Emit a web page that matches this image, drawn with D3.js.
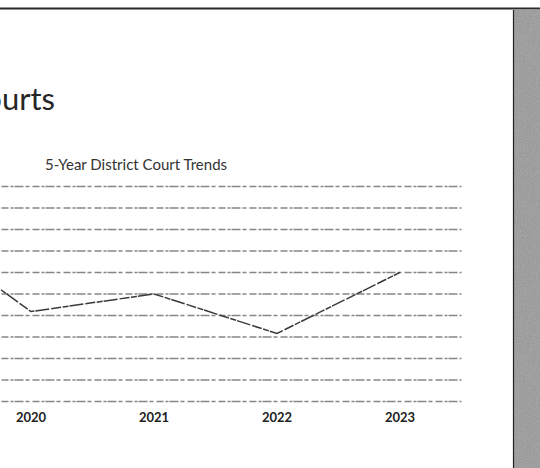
<!DOCTYPE html>
<html>
<head>
<meta charset="utf-8">
<script src="https://cdn.jsdelivr.net/npm/d3@7"></script>
<style>
  html, body { margin: 0; padding: 0; background: #fff; }
  svg { display: block; }
</style>
</head>
<body>
<svg id="slide" width="540" height="468"></svg>
<script>
// Annual district court totals, 2019–2023
const years = ["2019", "2020", "2021", "2022", "2023"];
const filings = [41600, 20800, 24900, 15700, 29900];
const yTicks = [0, 5000, 10000, 15000, 20000, 25000, 30000, 35000, 40000, 45000, 50000];

const svg = d3.select("#slide");
const W = 540, H = 468;

// paper grain used on the side panel
const defs = svg.append("defs");
const grain = defs.append("filter").attr("id", "grain")
  .attr("x", 0).attr("y", 0).attr("width", "100%").attr("height", "100%");
grain.append("feTurbulence").attr("type", "fractalNoise")
  .attr("baseFrequency", 0.8).attr("numOctaves", 2).attr("seed", 7).attr("result", "n");
grain.append("feColorMatrix").attr("in", "n").attr("type", "saturate").attr("values", 0);

// slide frame: top rule and grey side panel
svg.append("rect").attr("x", 0).attr("y", 7.5).attr("width", W).attr("height", 2).attr("fill", "#2a2a2a");
svg.append("rect").attr("x", 513).attr("y", 10).attr("width", 27).attr("height", H - 10).attr("fill", "#989898");
svg.append("rect").attr("x", 513).attr("y", 10).attr("width", 27).attr("height", H - 10)
  .attr("filter", "url(#grain)").attr("opacity", 0.4);
svg.append("line").attr("x1", 513.5).attr("x2", 513.5).attr("y1", 10).attr("y2", H)
  .attr("stroke", "#222").attr("stroke-width", 1.2);

// slide heading
svg.append("text")
  .attr("x", 55).attr("y", 110)
  .attr("text-anchor", "end")
  .attr("font-family", "Lato, 'Open Sans', sans-serif")
  .attr("font-size", 31)
  .attr("fill", "#262626")
  .text("District Courts");

// chart
const x = d3.scaleBand().domain(years).range([-153.5, 461.5]);
const y = d3.scaleLinear().domain([0, 50000]).range([401, 186]);
const cx = d => x(d) + x.bandwidth() / 2;

svg.append("text")
  .attr("x", 136).attr("y", 170)
  .attr("text-anchor", "middle")
  .attr("font-family", "Lato, 'Open Sans', sans-serif")
  .attr("font-size", 15)
  .attr("fill", "#333")
  .text("5-Year District Court Trends");

// horizontal gridlines
const grid = svg.append("g")
  .attr("transform", `translate(${x.range()[0]},0)`)
  .call(d3.axisRight(y).tickValues(yTicks).tickSize(x.range()[1] - x.range()[0]).tickFormat(""));
grid.select(".domain").remove();
grid.selectAll(".tick line")
  .attr("stroke", "#5e5e5e")
  .attr("stroke-width", 1.3)
  .attr("stroke-dasharray", "7 2 3 1 9 2 4 3")
  .attr("opacity", 0.75);

// category labels
const xAxis = svg.append("g")
  .attr("transform", "translate(0,401)")
  .call(d3.axisBottom(x).tickSize(0).tickPadding(12));
xAxis.select(".domain").remove();
xAxis.selectAll("text")
  .attr("font-family", "Lato, 'Open Sans', sans-serif")
  .attr("font-weight", "bold")
  .attr("font-size", 13)
  .attr("fill", "#222");

// trend line
const line = d3.line().x((d, i) => cx(years[i])).y(d => y(d));
svg.append("path")
  .datum(filings)
  .attr("fill", "none")
  .attr("stroke", "#3a3a3a")
  .attr("stroke-width", 1.5)
  .attr("stroke-dasharray", "10 1.5 6 1 14 2")
  .attr("d", line);
</script>
</body>
</html>
